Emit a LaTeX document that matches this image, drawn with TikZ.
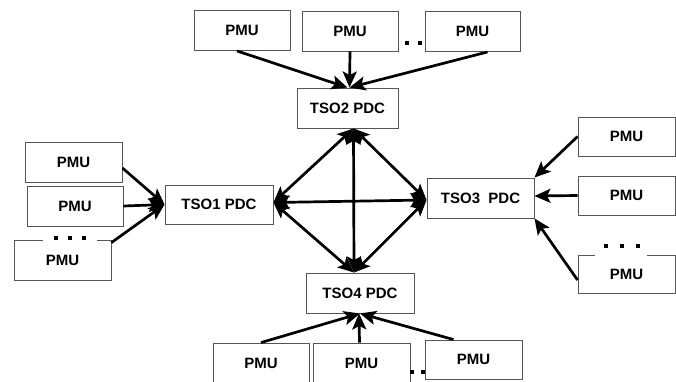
\documentclass[tikz,border=0pt]{standalone}
\usepackage{fontspec}
\setmainfont{Liberation Sans}
\usetikzlibrary{arrows.meta,calc}
\definecolor{boxline}{HTML}{555555}
\tikzset{
  box/.style={draw=boxline,line width=0.9pt,fill=white,minimum width=97pt,minimum height=40pt,inner sep=0pt,font=\fontsize{15}{17}\selectfont\bfseries},
  pdc/.style={box,minimum width=107pt},
  tip/.style={},
  arr/.style={line width=2.7pt,-{Stealth[length=16pt,width=14pt,inset=3.5pt]}},
  darr/.style={line width=2.7pt,{Stealth[length=16pt,width=14pt,inset=3.5pt]}-{Stealth[length=16pt,width=14pt,inset=3.5pt]}},
  dot/.style={fill=black,minimum size=4.5pt,inner sep=0pt},
  gap/.style={fill=white,inner sep=0pt}
}
\begin{document}
\begin{tikzpicture}[x=1pt,y=-1pt]
\useasboundingbox (0,0) rectangle (676,381);
\clip (0,0) rectangle (676,381);
% top
\node[box,minimum width=96pt] (T1) at (242,30.5) {PMU};
\node[box,minimum width=96pt] (T2) at (350,31) {PMU};
\node[box,minimum width=95pt] (T3) at (472.5,31.5) {PMU};
\node[pdc,minimum width=101pt] (P2) at (347.5,108) {TSO2 PDC};
% left
\node[box] (L1) at (73.5,162) {PMU};
\node[box,minimum width=96pt] (L2) at (75,206) {PMU};
\node[box] (L3) at (62.5,260) {PMU};
\node[pdc,minimum width=108pt,minimum height=39pt] (P1) at (219,204.5) {TSO1 PDC};
% right
\node[box,minimum height=39pt] (R1) at (626.5,136.5) {PMU};
\node[box,minimum height=39pt] (R2) at (626.5,195.5) {PMU};
\node[box,minimum height=38pt] (R3) at (626.5,274) {PMU};
\node[pdc] (P3) at (480.5,198) {TSO3\ \ PDC};
% bottom
\node[pdc,minimum width=108pt] (P4) at (360,293) {TSO4 PDC};
\node[box,minimum width=96pt] (B1) at (261,363) {PMU};
\node[box] (B2) at (361.5,363) {PMU};
\node[box,minimum height=39pt] (B3) at (473.5,359.5) {PMU};
% ellipsis marks
\node[gap,minimum width=54pt,minimum height=4pt] (g1) at (70,240) {};
\node[dot] (d1) at (56,238) {};
\node[dot] (d2) at (70,238) {};
\node[dot] (d3) at (84,238) {};
\node[gap,minimum width=52pt,minimum height=4pt] (g3) at (621,255) {};
\node[dot] (d4) at (606,246) {};
\node[dot] (d5) at (622,246) {};
\node[dot] (d6) at (638,246) {};
\node[dot] (d7) at (407,43) {};
\node[dot] (d8) at (420,43) {};
\node[dot] (d9) at (412,372) {};
\node[dot] (d10) at (423,372) {};
% PMU -> PDC
\draw[arr] ($(T1.south)+(-5,0)$) -- (P2.north);
\draw[arr] (T2.south) -- ($(P2.north)+(2,0)$);
\draw[arr] ($(T3.south)+(15,0)$) -- ($(P2.north)+(2,0)$);
\draw[arr] ($(L1.east)+(0,6)$) -- (P1.west);
\draw[arr] (L2.east) -- (P1.west);
\draw[arr] ($(L3.north east)+(0,3)$) -- (P1.west);
\draw[arr] (R1.west) -- (P3.north east);
\draw[arr] (R2.west) -- ($(P3.east)+(0,-2)$);
\draw[arr] ($(R3.west)+(0,6)$) -- (P3.south east);
\draw[arr] (B1.north) -- (P4.south);
\draw[arr] ($(B2.north)+(-2,0)$) -- ($(P4.south)+(-1,0)$);
\draw[arr] ($(B3.north)+(-20,0)$) -- (P4.south);
% PDC mesh
\coordinate (c2) at ($(P2.south)+(6,0)$);
\coordinate (c4) at ($(P4.north)+(-6,0)$);
\coordinate (c1) at ($(P1.east)+(0,-2)$);
\coordinate (c3) at ($(P3.west)+(0,2)$);
\draw[darr] (c2) -- (c4);
\draw[darr] (c1) -- (c3);
\draw[darr] (c2) -- (c1);
\draw[darr] (c2) -- (c3);
\draw[darr] (c1) -- (c4);
\draw[darr] (c3) -- (c4);
\end{tikzpicture}
\end{document}
